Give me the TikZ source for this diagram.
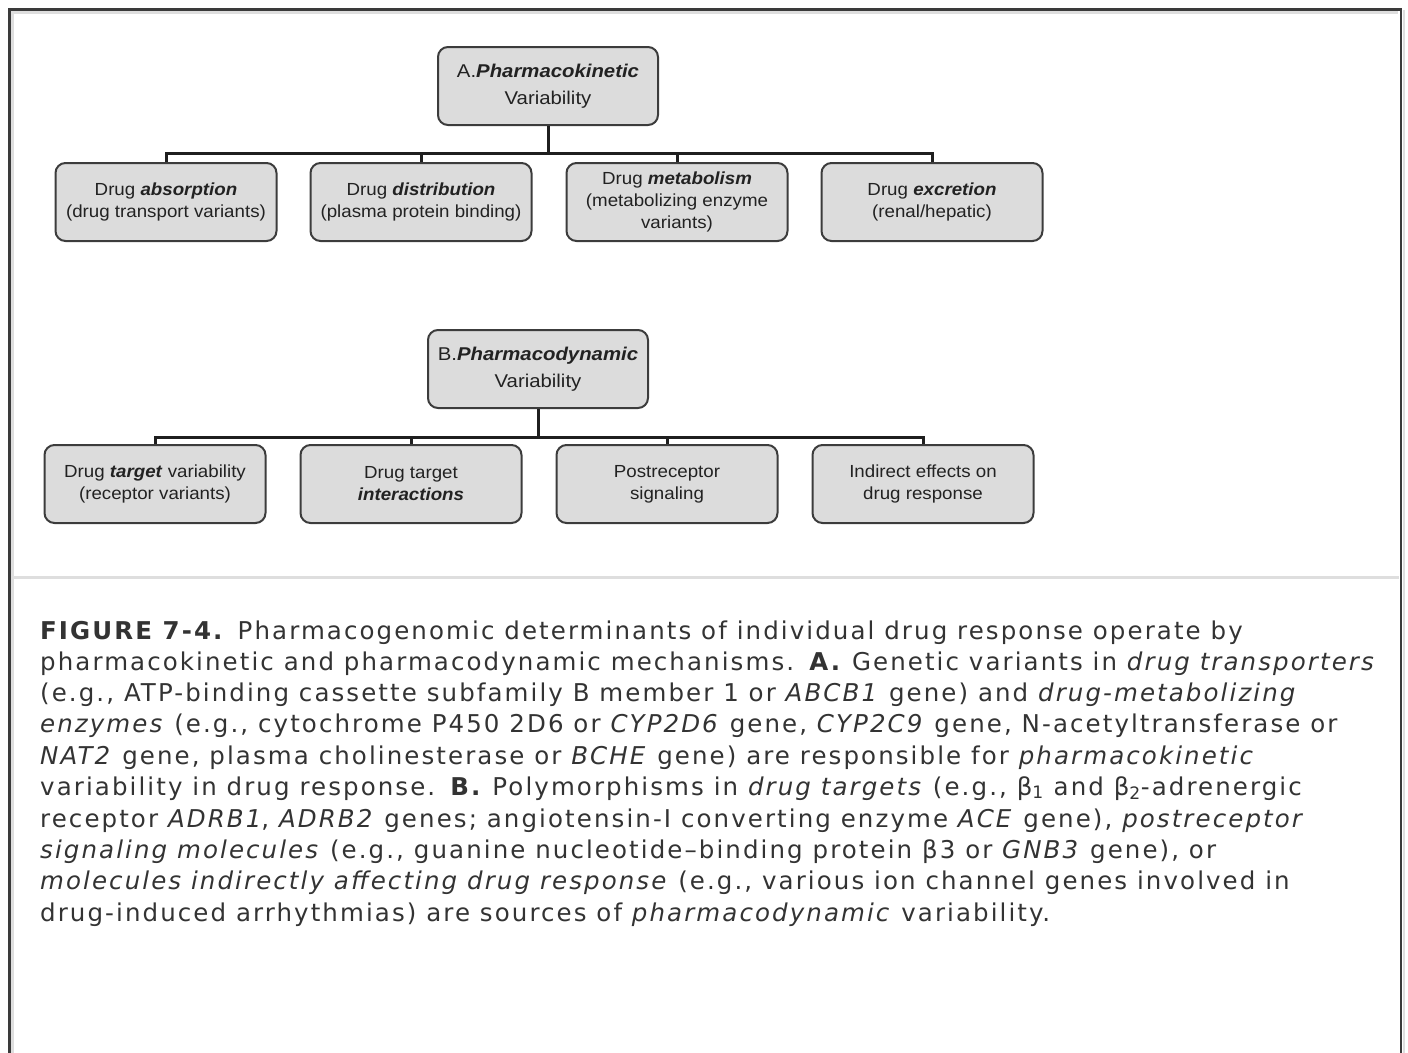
\documentclass[tikz,border=0pt]{standalone}
\usepackage{fontspec}
\newfontfamily\diagfont[FakeStretch=1.07]{Liberation Sans}
\newfontfamily\topfont[FakeStretch=1.1]{Liberation Sans}
\newfontfamily\capfont[LetterSpace=8.5]{DejaVu Sans}
\definecolor{frameline}{HTML}{3A3A3A}
\definecolor{framelight}{HTML}{DEDEDE}
\definecolor{boxfill}{HTML}{DCDCDC}
\definecolor{boxline}{HTML}{3C3C3C}
\definecolor{diagtext}{HTML}{222222}
\definecolor{captext}{HTML}{333333}
\begin{document}
\begin{tikzpicture}[x=1pt,y=-1pt,
  box/.style={draw=boxline, fill=boxfill, rounded corners=10pt, line width=2pt,
    minimum width=221pt, minimum height=78pt, inner sep=0pt, align=center,
    text=diagtext, font=\diagfont\fontsize{17.5}{22}\selectfont},
  topbox/.style={box, minimum width=220pt, font=\topfont\fontsize{18.5}{27}\selectfont},
  conn/.style={draw=black!88, line width=3pt},
  capline/.style={anchor=base west, inner sep=0pt, text=captext,
    font=\capfont\fontsize{24.5}{28}\selectfont}]
\useasboundingbox (0,0) rectangle (1408,1052);
% frame
\draw[framelight, line width=3pt] (12.5,1060) -- (12.5,12.5) -- (1398,12.5);
\draw[framelight, line width=2pt] (1403.5,10) -- (1403.5,1060);
\draw[frameline, line width=2.5pt] (9.5,1060) -- (9.5,9.5) -- (1401,9.5) -- (1401,1060);
\draw[framelight, line width=3pt] (13,577) -- (1399,577);

% Part A
\node[topbox] (A) at (548,86) {A.\textbf{\textit{Pharmacokinetic}}\\Variability};
\node[box] (a1) at (166,202) {Drug \textbf{\textit{absorption}}\\(drug transport variants)};
\node[box] (a2) at (421,202) {Drug \textbf{\textit{distribution}}\\(plasma protein binding)};
\node[box] (a3) at (677,202) {Drug \textbf{\textit{metabolism}}\\(metabolizing enzyme\\variants)};
\node[box] (a4) at (932,202) {Drug \textbf{\textit{excretion}}\\(renal/hepatic)};
\coordinate (busA) at (548,153);
\draw[conn] (A.south) -- (busA);
\draw[conn] (a1.north) |- (busA);
\draw[conn] (a2.north) |- (busA);
\draw[conn] (a3.north) |- (busA);
\draw[conn] (a4.north) |- (busA);

% Part B
\node[topbox] (B) at (538,369) {B.\textbf{\textit{Pharmacodynamic}}\\Variability};
\node[box] (b1) at (155,484) {Drug \textbf{\textit{target}} variability\\(receptor variants)};
\node[box] (b2) at (411,484) {Drug target\\\textbf{\textit{interactions}}};
\node[box] (b3) at (667,484) {Postreceptor\\signaling};
\node[box] (b4) at (923,484) {Indirect effects on\\drug response};
\coordinate (busB) at (538,437);
\draw[conn] (B.south) -- (busB);
\draw[conn] (b1.north) |- (busB);
\draw[conn] (b2.north) |- (busB);
\draw[conn] (b3.north) |- (busB);
\draw[conn] (b4.north) |- (busB);

% Caption
\node[capline] (c1) at (40,639) {\textbf{FIGURE 7-4.} Pharmacogenomic determinants of individual drug response operate by};
\node[capline] (c2) at (40,670) {pharmacokinetic and pharmacodynamic mechanisms. \textbf{A.} Genetic variants in \textit{drug transporters}};
\node[capline] (c3) at (40,701) {(e.g., ATP-binding cassette subfamily B member 1 or \textit{ABCB1} gene) and \textit{drug-metabolizing}};
\node[capline] (c4) at (40,732) {\textit{enzymes} (e.g., cytochrome P450 2D6 or \textit{CYP2D6} gene, \textit{CYP2C9} gene, N-acetyltransferase or};
\node[capline] (c5) at (40,764) {\textit{NAT2} gene, plasma cholinesterase or \textit{BCHE} gene) are responsible for \textit{pharmacokinetic}};
\node[capline] (c6) at (40,795) {variability in drug response. \textbf{B.} Polymorphisms in \textit{drug targets} (e.g., β\textsubscript{1} and β\textsubscript{2}-adrenergic};
\node[capline] (c7) at (40,827) {receptor \textit{ADRB1}, \textit{ADRB2} genes; angiotensin-I converting enzyme \textit{ACE} gene), \textit{postreceptor}};
\node[capline] (c8) at (40,858) {\textit{signaling molecules} (e.g., guanine nucleotide–binding protein β3 or \textit{GNB3} gene), or};
\node[capline] (c9) at (40,889) {\textit{molecules indirectly affecting drug response} (e.g., various ion channel genes involved in};
\node[capline] (c10) at (40,921) {drug-induced arrhythmias) are sources of \textit{pharmacodynamic} variability.};
\end{tikzpicture}
\end{document}
